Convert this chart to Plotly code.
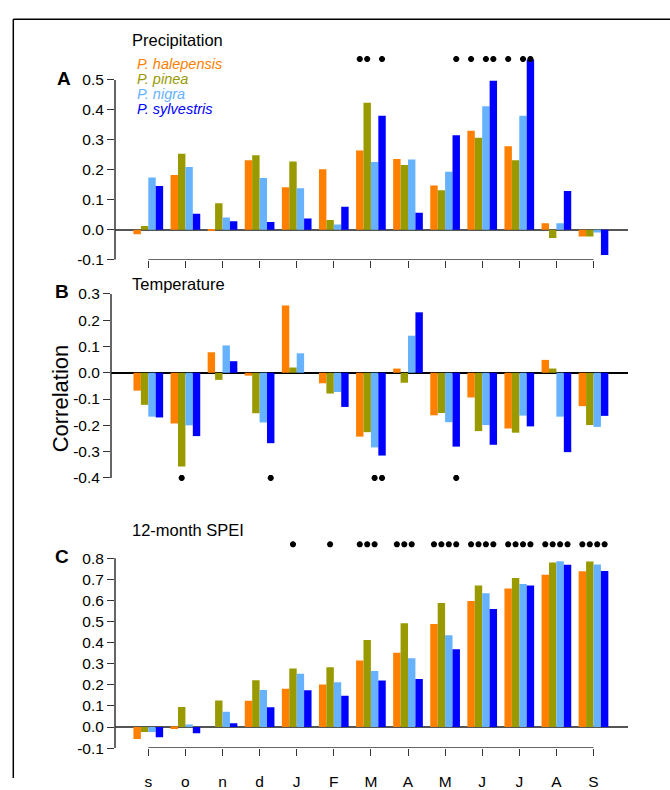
import plotly.graph_objects as go

months = ["s", "o", "n", "d", "J", "F", "M", "A", "M", "J", "J", "A", "S"]
species = ["P. halepensis", "P. pinea", "P. nigra", "P. sylvestris"]
colors = ["#FF7F00", "#999900", "#66B2FF", "#0000FF"]

# Panel A: precipitation correlations
prec_hal = [-0.015, 0.183, -0.003, 0.232, 0.142, 0.202, 0.265, 0.236, 0.148, 0.331, 0.279, 0.022, -0.022]
prec_pin = [0.013, 0.254, 0.089, 0.249, 0.228, 0.033, 0.424, 0.216, 0.132, 0.307, 0.232, -0.027, -0.022]
prec_nig = [0.175, 0.210, 0.041, 0.173, 0.139, 0.018, 0.226, 0.235, 0.194, 0.412, 0.381, 0.022, -0.009]
prec_syl = [0.146, 0.054, 0.029, 0.026, 0.038, 0.077, 0.381, 0.057, 0.316, 0.497, 0.568, 0.130, -0.084]

# Panel B: temperature correlations
temp_hal = [-0.068, -0.193, 0.078, -0.011, 0.256, -0.040, -0.243, 0.016, -0.162, -0.094, -0.212, 0.049, -0.127]
temp_pin = [-0.122, -0.357, -0.027, -0.154, 0.020, -0.079, -0.226, -0.038, -0.153, -0.222, -0.228, 0.016, -0.199]
temp_nig = [-0.167, -0.200, 0.104, -0.189, 0.074, -0.073, -0.284, 0.141, -0.188, -0.199, -0.163, -0.167, -0.206]
temp_syl = [-0.170, -0.241, 0.044, -0.268, 0.000, -0.130, -0.315, 0.230, -0.281, -0.274, -0.204, -0.302, -0.164]

# Panel C: 12-month SPEI correlations
spei_hal = [-0.057, -0.009, 0.000, 0.125, 0.182, 0.202, 0.315, 0.352, 0.488, 0.598, 0.657, 0.722, 0.738]
spei_pin = [-0.023, 0.095, 0.126, 0.222, 0.278, 0.283, 0.412, 0.492, 0.588, 0.671, 0.706, 0.780, 0.785]
spei_nig = [-0.023, 0.012, 0.072, 0.175, 0.252, 0.212, 0.266, 0.326, 0.435, 0.634, 0.678, 0.786, 0.771]
spei_syl = [-0.048, -0.029, 0.018, 0.094, 0.174, 0.148, 0.220, 0.228, 0.369, 0.560, 0.671, 0.769, 0.740]

# significance flags (1 = asterisk) per species and month
sigA_hal = [0, 0, 0, 0, 0, 0, 1, 0, 0, 1, 1, 0, 0]
sigA_pin = [0, 0, 0, 0, 0, 0, 1, 0, 0, 0, 0, 0, 0]
sigA_nig = [0, 0, 0, 0, 0, 0, 0, 0, 0, 1, 1, 0, 0]
sigA_syl = [0, 0, 0, 0, 0, 0, 1, 0, 1, 1, 1, 0, 0]

sigB_hal = [0, 0, 0, 0, 0, 0, 0, 0, 0, 0, 0, 0, 0]
sigB_pin = [0, 1, 0, 0, 0, 0, 0, 0, 0, 0, 0, 0, 0]
sigB_nig = [0, 0, 0, 0, 0, 0, 1, 0, 0, 0, 0, 0, 0]
sigB_syl = [0, 0, 0, 1, 0, 0, 1, 0, 1, 0, 0, 0, 0]

sigC_hal = [0, 0, 0, 0, 0, 0, 1, 1, 1, 1, 1, 1, 1]
sigC_pin = [0, 0, 0, 0, 1, 1, 1, 1, 1, 1, 1, 1, 1]
sigC_nig = [0, 0, 0, 0, 0, 0, 1, 1, 1, 1, 1, 1, 1]
sigC_syl = [0, 0, 0, 0, 0, 0, 0, 0, 1, 1, 1, 1, 1]

ticksA = [-0.1, 0.0, 0.1, 0.2, 0.3, 0.4, 0.5]
ticksB = [-0.4, -0.3, -0.2, -0.1, 0.0, 0.1, 0.2, 0.3]
ticksC = [-0.1, 0.0, 0.1, 0.2, 0.3, 0.4, 0.5, 0.6, 0.7, 0.8]
fmt = lambda v: "%.1f" % v

W, H = 670, 790
FONT = "Liberation Sans, Arial, sans-serif"

panels = [
    ([prec_hal, prec_pin, prec_nig, prec_syl], [sigA_hal, sigA_pin, sigA_nig, sigA_syl], 0.57, "x", "y"),
    ([temp_hal, temp_pin, temp_nig, temp_syl], [sigB_hal, sigB_pin, sigB_nig, sigB_syl], -0.40, "x2", "y2"),
    ([spei_hal, spei_pin, spei_nig, spei_syl], [sigC_hal, sigC_pin, sigC_nig, sigC_syl], 0.866, "x3", "y3"),
]

fig = go.Figure()
cats = list(range(len(months)))
offsets = [-0.3, -0.1, 0.1, 0.3]
for series, sigs, star_y, xa, ya in panels:
    for s in range(4):
        fig.add_trace(go.Bar(x=cats, y=series[s], marker=dict(color=colors[s], line=dict(width=0)),
                             name=species[s], xaxis=xa, yaxis=ya, showlegend=False))
    sx, sy = [], []
    for s in range(4):
        for k in cats:
            if sigs[s][k]:
                sx.append(k + offsets[s])
                sy.append(star_y)
    fig.add_trace(go.Scatter(x=sx, y=sy, mode="markers", xaxis=xa, yaxis=ya, showlegend=False,
                             cliponaxis=False,
                             marker=dict(symbol="asterisk-open", size=5, color="black",
                                         line=dict(color="black", width=2))))

def px_x(p):
    return p / W

def px_y(p):
    return 1 - p / H

# pixel geometry
cat0_px, cat_w = 148.3, 37.1
right_px = 628
xhi = (right_px - cat0_px) / cat_w

def xrange_from(left_px):
    return [(left_px - cat0_px) / cat_w, xhi]

tickfont = dict(family=FONT, size=15.5, color="black")
common_x = dict(showgrid=False, zeroline=False, showline=False, tickvals=cats,
                ticks="outside", ticklen=7, tickwidth=1.3, tickcolor="#333")

fig.update_layout(
    width=W, height=H, margin=dict(l=0, r=0, t=0, b=0),
    paper_bgcolor="white", plot_bgcolor="white",
    barmode="group", bargap=0.2, bargroupgap=0,
    showlegend=False,
    xaxis=dict(domain=[px_x(115), px_x(right_px)], range=xrange_from(115), anchor="y",
               showticklabels=False, **common_x),
    yaxis=dict(domain=[px_y(257.7), px_y(42.1)], range=[-0.1, 0.6], anchor="x",
               tickvals=ticksA, ticktext=[fmt(v) for v in ticksA],
               ticks="outside", ticklen=7, tickwidth=1.3, tickcolor="#333", tickfont=tickfont,
               showgrid=False, zeroline=True, zerolinecolor="#555", zerolinewidth=2),
    xaxis2=dict(domain=[px_x(111), px_x(right_px)], range=xrange_from(111), anchor="y2",
                showgrid=False, zeroline=False, showline=False, showticklabels=False, ticks=""),
    yaxis2=dict(domain=[px_y(481.7), px_y(292.7)], range=[-0.4, 0.3], anchor="x2",
                tickvals=ticksB, ticktext=[fmt(v) for v in ticksB],
                ticks="outside", ticklen=7, tickwidth=1.3, tickcolor="#333", tickfont=tickfont,
                showgrid=False, zeroline=True, zerolinecolor="black", zerolinewidth=2),
    xaxis3=dict(domain=[px_x(115), px_x(right_px)], range=xrange_from(115), anchor="y3",
                ticktext=months, tickfont=tickfont, ticklabelstandoff=12, **common_x),
    yaxis3=dict(domain=[px_y(759.3), px_y(542.6)], range=[-0.1, 0.9], anchor="x3",
                tickvals=ticksC, ticktext=[fmt(v) for v in ticksC],
                ticks="outside", ticklen=7, tickwidth=1.3, tickcolor="#333", tickfont=tickfont,
                showgrid=False, zeroline=True, zerolinecolor="#555", zerolinewidth=2),
)

axis_line = dict(color="#333", width=1.5)
shapes = []
# y-axis spines (R style, from first to last tick)
for xa, ya, tks in [("x", "y", ticksA), ("x2", "y2", ticksB), ("x3", "y3", ticksC)]:
    shapes.append(dict(type="line", xref=xa + " domain", yref=ya, x0=0, x1=0,
                       y0=tks[0], y1=tks[-1], line=axis_line))
# x-axis brackets for A and C
for xa, ya, tks in [("x", "y", ticksA), ("x3", "y3", ticksC)]:
    shapes.append(dict(type="line", xref=xa, yref=ya, x0=cats[0], x1=cats[-1],
                       y0=tks[0], y1=tks[0], line=axis_line))
# outer frame
shapes.append(dict(type="line", xref="paper", yref="paper", x0=px_x(13.3), x1=px_x(13.3),
                   y0=0, y1=px_y(10.5), line=dict(color="black", width=1.5)))
shapes.append(dict(type="line", xref="paper", yref="paper", x0=px_x(13.3), x1=1,
                   y0=px_y(10.5), y1=px_y(10.5), line=dict(color="black", width=1.5)))
fig.update_layout(shapes=shapes)

ann = []
titles = [("Precipitation", 32), ("Temperature", 283), ("12-month SPEI", 535)]
for t, yp in titles:
    ann.append(dict(text=t, xref="paper", yref="paper", x=px_x(129.5), y=px_y(yp),
                    xanchor="left", yanchor="middle", showarrow=False,
                    font=dict(family=FONT, size=16.5, color="black")))
letters = [("A", 55, 71.7), ("B", 52.5, 290), ("C", 53, 562.5)]
for t, xp, yp in letters:
    ann.append(dict(text="<b>%s</b>" % t, xref="paper", yref="paper", x=px_x(xp), y=px_y(yp),
                    xanchor="left", yanchor="middle", showarrow=False,
                    font=dict(family=FONT, size=19, color="black")))
leg_y = [56, 71.7, 87.3, 102.7]
for s in range(4):
    ann.append(dict(text="<i>%s</i>" % species[s], xref="paper", yref="paper",
                    x=px_x(134.5), y=px_y(leg_y[s]), xanchor="left", yanchor="middle",
                    showarrow=False, font=dict(family=FONT, size=14.5, color=colors[s])))
ann.append(dict(text="Correlation", xref="paper", yref="paper", x=px_x(60), y=px_y(400),
                xanchor="center", yanchor="middle", textangle=-90, showarrow=False,
                font=dict(family=FONT, size=22, color="black")))
fig.update_layout(annotations=ann)

fig.write_html("out.html")
